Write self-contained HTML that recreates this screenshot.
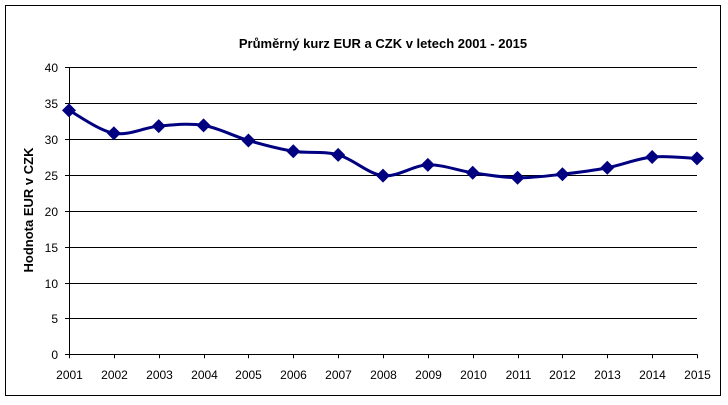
<!DOCTYPE html>
<html><head><meta charset="utf-8"><style>
body{margin:0;background:#fff;width:728px;height:400px;overflow:hidden}
svg{font-family:"Liberation Sans",Arial,sans-serif}
</style></head><body>
<svg id="chart" width="728" height="400" xmlns="http://www.w3.org/2000/svg">
<rect x="5.5" y="5.5" width="715" height="390" fill="#fff" stroke="#000" stroke-width="1"/>
<text x="383" y="48" font-size="13" font-weight="bold" text-anchor="middle">Průměrný kurz EUR a CZK v letech 2001 - 2015</text>
<text transform="translate(33,210) rotate(-90)" font-size="13" font-weight="bold" text-anchor="middle">Hodnota EUR v CZK</text>
<g id="grid"></g><g id="axes"></g><g id="series"></g>
</svg>
<script>
const years=["2001","2002","2003","2004","2005","2006","2007","2008","2009","2010","2011","2012","2013","2014","2015"];
const rates=[34.0,30.8,31.8,31.9,29.8,28.3,27.8,24.9,26.4,25.3,24.6,25.1,26.0,27.5,27.3];
const yTicks=[0,5,10,15,20,25,30,35,40];
const NS="http://www.w3.org/2000/svg";
const x0=69,x1=697,yb=354.3,yt=67.3,ymax=40;
const xs=i=>x0+(x1-x0)*i/(years.length-1);
const ys=v=>yb-(yb-yt)*v/ymax;
function mk(tag,attrs,parent){const e=document.createElementNS(NS,tag);for(const k in attrs)e.setAttribute(k,attrs[k]);parent.appendChild(e);return e;}
const grid=document.getElementById('grid'),axes=document.getElementById('axes'),ser=document.getElementById('series');
yTicks.forEach(t=>{
  const y=Math.round(ys(t))+0.5;
  if(t>0){const g=mk('line',{x1:x0,x2:x1,y1:y,y2:y,stroke:'#000','stroke-width':1},grid);
  
  }
  const tk=mk('line',{x1:x0-4,x2:x0,y1:y,y2:y,stroke:'#000'},axes);
  
  
  const l=mk('text',{x:x0-11,y:y+4.5,'font-size':12,'text-anchor':'end'},axes);l.textContent=t;
  
  
});
const ya=mk('line',{x1:x0+0.5,x2:x0+0.5,y1:ys(40),y2:ys(0),stroke:'#000'},axes);


const xa=mk('line',{x1:x0,x2:x1,y1:Math.round(ys(0))+0.5,y2:Math.round(ys(0))+0.5,stroke:'#000'},axes);


years.forEach((yr,i)=>{
  const x=Math.round(xs(i))+0.5;
  const tk=mk('line',{x1:x,x2:x,y1:ys(0),y2:ys(0)+4,stroke:'#000'},axes);
  
  
  const l=mk('text',{x:x,y:379,'font-size':12,'text-anchor':'middle'},axes);l.textContent=yr;
  
  
});
const pts=rates.map((v,i)=>[xs(i),ys(v)]);
let d='M'+pts[0][0]+','+pts[0][1];
for(let i=0;i<pts.length-1;i++){
  const p0=pts[Math.max(0,i-1)],p1=pts[i],p2=pts[i+1],p3=pts[Math.min(pts.length-1,i+2)];
  const t=1/6;
  d+=` C${p1[0]+(p2[0]-p0[0])*t},${p1[1]+(p2[1]-p0[1])*t} ${p2[0]-(p3[0]-p1[0])*t},${p2[1]-(p3[1]-p1[1])*t} ${p2[0]},${p2[1]}`;
}
const line=mk('path',{d:d,fill:'none',stroke:'#000080','stroke-width':3},ser);


pts.forEach((p,i)=>{
  const s=7;
  const m=mk('polygon',{points:`${p[0]},${p[1]-s} ${p[0]+s},${p[1]} ${p[0]},${p[1]+s} ${p[0]-s},${p[1]}`,fill:'#000080'},ser);
  
  
});
</script>
</body></html>
